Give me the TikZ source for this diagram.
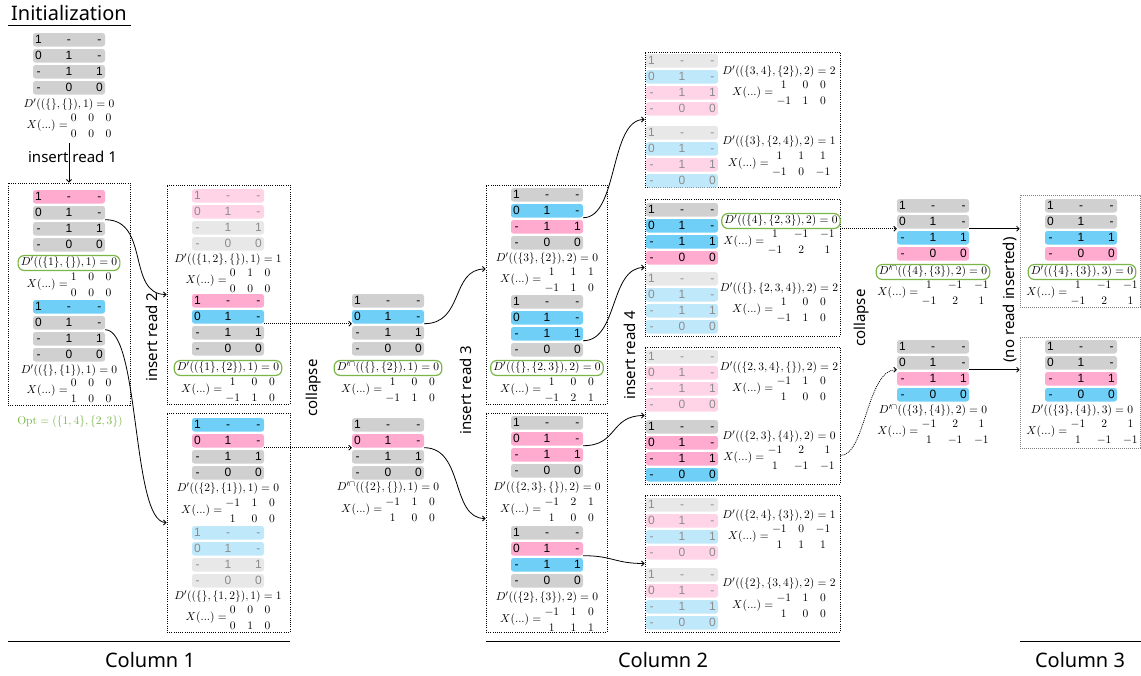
\documentclass[tikz,border=0pt]{standalone}
\usepackage{amsmath}
\usepackage{fontspec}
\usetikzlibrary{arrows.meta,calc}
\newfontfamily\labfont{Noto Sans}
\newfontfamily\cellfont{Liberation Sans}
\definecolor{gG}{HTML}{D0D0D0}
\definecolor{gP}{HTML}{FFAACF}
\definecolor{gB}{HTML}{6FCFF6}
\definecolor{fG}{HTML}{E8E8E8}
\definecolor{fP}{HTML}{FFD4E6}
\definecolor{fB}{HTML}{C0E8FB}
\definecolor{fT}{HTML}{8C8C8C}
\definecolor{okG}{HTML}{7AB648}
\newcommand\rt[3]{\hbox to 72pt{\hbox to 11pt{\hss#1\hss}\hss\hbox to 11pt{\hss#2\hss}\hss\hbox to 11pt{\hss#3\hss}}}
\newcommand\blk[7]{%
 \node[rowbox,#4] (#1-1) at (#2+36,#3+6.75) {\rt{1}{-}{-}};
 \node[rowbox,#5] (#1-2) at (#2+36,#3+22.75) {\rt{0}{1}{-}};
 \node[rowbox,#6] (#1-3) at (#2+36,#3+38.75) {\rt{-}{1}{1}};
 \node[rowbox,#7] (#1-4) at (#2+36,#3+54.75) {\rt{-}{0}{0}};
}
\newcommand\bx[6][boxst]{\node[#1,minimum width={#5-#3},minimum height={#6-#4}] (#2) at ({(#3+#5)/2},{(#4+#6)/2}) {};}
\newcommand\Xm[6]{$X(...) = \renewcommand{\arraystretch}{1.2}\setlength{\arraycolsep}{5.5pt}\begin{matrix}#1&#2&#3\\#4&#5&#6\end{matrix}$}
\begin{document}
\begin{tikzpicture}[x=1pt,y=-1pt,
 rowbox/.style={rounded corners=2.5pt,inner sep=0pt,minimum height=13.5pt,font=\cellfont\fontsize{12}{12}\selectfont},
 rg/.style={fill=gG}, rp/.style={fill=gP}, rb/.style={fill=gB},
 fg/.style={fill=fG,text=fT}, fp/.style={fill=fP,text=fT}, fb/.style={fill=fB,text=fT},
 mt/.style={font=\fontsize{10.95}{12.5}\selectfont,inner sep=1pt,scale=1.05,transform shape},
 oval/.style={mt,draw=okG,line width=1.2pt,rounded corners=6pt,inner xsep=2.5pt,inner ysep=1.5pt},
 boxst/.style={draw,dash pattern=on 1pt off 1.2pt,line width=0.9pt,inner sep=0pt},
 boxgr/.style={draw=gray,dash pattern=on 0.8pt off 1.2pt,line width=0.8pt,inner sep=0pt},
 conn/.style={-{Straight Barb[length=2.5pt,width=5pt]},line width=0.8pt},
 dconn/.style={conn,dash pattern=on 1pt off 1pt},
 lab/.style={font=\labfont\fontsize{15}{15}\selectfont,inner sep=0pt},
 title/.style={font=\labfont\fontsize{20}{20}\selectfont,inner sep=0pt},
 rule/.style={line width=1pt}]
\useasboundingbox (0,0) rectangle (1141,675);
% Initialization
\node[title] (T) at (69,13) {Initialization};
\draw[rule] (8,25) -- (131,25);
\blk{I}{33}{33}{rg}{rg}{rg}{rg}
\node[mt] (DI) at (69,105) {$D'((\{\},\{\}),1) = 0$};
\node[mt] (XI) at (69,126) {\Xm{0}{0}{0}{0}{0}{0}};
\node[lab] (L1) at (72.5,157) {insert read 1};
% Column 1 first box
\bx{B1}{8}{183}{130}{405}
\blk{A}{33}{190}{rp}{rg}{rg}{rg}
\node[oval] (DA) at (69,263) {$D'((\{1\},\{\}),1) = 0$};
\node[mt] (XA) at (69,285) {\Xm{1}{0}{0}{0}{0}{0}};
\blk{Ab}{33}{300}{rb}{rg}{rg}{rg}
\node[mt] (DAb) at (69,371) {$D'((\{\},\{1\}),1) = 0$};
\node[mt] (XAb) at (69,391) {\Xm{0}{0}{0}{1}{0}{0}};
\node[mt,text=okG] (Opt) at (70,422) {$\mathrm{Opt} = (\{1,4\},\{2,3\})$};
% Column 1 second boxes
\node[lab,rotate=90] (L2) at (152,337) {insert read 2};
\bx{B2a}{167}{185}{290}{404}
\blk{Ba}{192}{189}{fp}{fp}{fg}{fg}
\node[mt] (DBa) at (228,260) {$D'((\{1,2\},\{\}),1) = 1$};
\node[mt] (XBa) at (228,281) {\Xm{0}{1}{0}{0}{0}{0}};
\blk{Bb}{192}{294}{rp}{rb}{rg}{rg}
\node[oval] (DBb) at (228,368) {$D'((\{1\},\{2\}),1) = 0$};
\node[mt] (XBb) at (228,390) {\Xm{1}{0}{0}{-1}{1}{0}};
\bx{B2b}{167}{413}{290}{632}
\blk{Bc}{192}{418}{rb}{rp}{rg}{rg}
\node[mt] (DBc) at (228,489) {$D'((\{2\},\{1\}),1) = 0$};
\node[mt] (XBc) at (228,511) {\Xm{-1}{1}{0}{1}{0}{0}};
\blk{Bd}{192}{526}{fb}{fb}{fg}{fg}
\node[mt] (DBd) at (228,597) {$D'((\{\},\{1,2\}),1) = 1$};
\node[mt] (XBd) at (228,618) {\Xm{0}{0}{0}{0}{1}{0}};
% collapse 1
\node[lab,rotate=90] (L3) at (314,388) {collapse};
\blk{C}{352}{294}{rg}{rb}{rg}{rg}
\node[oval] (DC) at (388,368) {$D'^{\cap}((\{\},\{2\}),1) = 0$};
\node[mt] (XC) at (388,390) {\Xm{1}{0}{0}{-1}{1}{0}};
\blk{Cb}{352}{418}{rg}{rp}{rg}{rg}
\node[mt] (DCb) at (388,488) {$D'^{\cap}((\{2\},\{\}),1) = 0$};
\node[mt] (XCb) at (388,510) {\Xm{-1}{1}{0}{1}{0}{0}};
% Column 2 first boxes
\node[lab,rotate=90] (L4) at (466,390) {insert read 3};
\bx{B3a}{486}{185}{607}{404}
\blk{Da}{511}{188}{rg}{rb}{rp}{rg}
\node[mt] (DDa) at (547,259) {$D'((\{3\},\{2\}),2) = 0$};
\node[mt] (XDa) at (547,280) {\Xm{1}{1}{1}{-1}{1}{0}};
\blk{Db}{511}{295}{rg}{rb}{rb}{rg}
\node[oval] (DDb) at (547,368) {$D'((\{\},\{2,3\}),2) = 0$};
\node[mt] (XDb) at (547,390) {\Xm{1}{0}{0}{-1}{2}{1}};
\bx{B3b}{486}{413}{607}{632}
\blk{Dc}{511}{416}{rg}{rp}{rp}{rg}
\node[mt] (DDc) at (547,488) {$D'((\{2,3\},\{\}),2) = 0$};
\node[mt] (XDc) at (547,510) {\Xm{-1}{2}{1}{1}{0}{0}};
\blk{Dd}{511}{526}{rg}{rp}{rb}{rg}
\node[mt] (DDd) at (547,598) {$D'((\{2\},\{3\}),2) = 0$};
\node[mt] (XDd) at (547,620) {\Xm{-1}{1}{0}{1}{1}{1}};
% Column 2 second boxes
\node[lab,rotate=90] (L5) at (630,355) {insert read 4};
\bx{B4a}{645}{52}{840}{187}
\blk{Ea}{646}{54}{fg}{fb}{fp}{fp}
\node[mt] (DEa) at (779,72) {$D'((\{3,4\},\{2\}),2) = 2$};
\node[mt] (XEa) at (779,93) {\Xm{1}{0}{0}{-1}{1}{0}};
\blk{Eb}{646}{126}{fg}{fb}{fp}{fb}
\node[mt] (DEb) at (779,142) {$D'((\{3\},\{2,4\}),2) = 1$};
\node[mt] (XEb) at (779,164) {\Xm{1}{1}{1}{-1}{0}{-1}};
\bx{B4b}{645}{199}{840}{336}
\blk{Ec}{646}{203}{rg}{rb}{rb}{rp}
\node[oval] (DEc) at (781,221) {$D'((\{4\},\{2,3\}),2) = 0$};
\node[mt] (XEc) at (779,242) {\Xm{1}{-1}{-1}{-1}{2}{1}};
\blk{Ed}{646}{272}{fg}{fb}{fb}{fb}
\node[mt] (DEd) at (779,289) {$D'((\{\},\{2,3,4\}),2) = 2$};
\node[mt] (XEd) at (779,310) {\Xm{1}{0}{0}{-1}{1}{0}};
\bx{B4c}{645}{347}{840}{484}
\blk{Ee}{646}{350}{fg}{fp}{fp}{fp}
\node[mt] (DEe) at (779,368) {$D'((\{2,3,4\},\{\}),2) = 2$};
\node[mt] (XEe) at (779,389) {\Xm{-1}{1}{0}{1}{0}{0}};
\blk{Ef}{646}{420}{rg}{rp}{rp}{rb}
\node[mt] (DEf) at (779,437) {$D'((\{2,3\},\{4\}),2) = 0$};
\node[mt] (XEf) at (779,458) {\Xm{-1}{2}{1}{1}{-1}{-1}};
\bx{B4d}{645}{495}{840}{632}
\blk{Eg}{646}{498}{fg}{fp}{fb}{fp}
\node[mt] (DEg) at (779,516) {$D'((\{2,4\},\{3\}),2) = 1$};
\node[mt] (XEg) at (779,537) {\Xm{-1}{0}{-1}{1}{1}{1}};
\blk{Eh}{646}{568}{fg}{fp}{fb}{fb}
\node[mt] (DEh) at (779,584) {$D'((\{2\},\{3,4\}),2) = 2$};
\node[mt] (XEh) at (779,606) {\Xm{-1}{1}{0}{1}{0}{0}};
% collapse 2
\node[lab,rotate=90] (L6) at (862,318) {collapse};
\blk{F}{897}{199}{rg}{rg}{rb}{rp}
\node[oval] (DF) at (933,272) {$D'^{\cap}((\{4\},\{3\}),2) = 0$};
\node[mt] (XF) at (933,293) {\Xm{1}{-1}{-1}{-1}{2}{1}};
\blk{Fb}{897}{340}{rg}{rg}{rp}{rb}
\node[mt] (DFb) at (933,411) {$D'^{\cap}((\{3\},\{4\}),2) = 0$};
\node[mt] (XFb) at (933,432) {\Xm{-1}{2}{1}{1}{-1}{-1}};
% Column 3
\node[lab,rotate=90] (L7) at (1010,300) {(no read inserted)};
\bx[boxgr]{B5a}{1020}{195}{1140}{307}
\blk{G}{1045}{199}{rg}{rg}{rb}{rp}
\node[oval] (DG) at (1082,272) {$D'((\{4\},\{3\}),3) = 0$};
\node[mt] (XG) at (1082,293) {\Xm{1}{-1}{-1}{-1}{2}{1}};
\bx[boxgr]{B5b}{1020}{337}{1140}{448}
\blk{Gb}{1045}{340}{rg}{rg}{rp}{rb}
\node[mt] (DGb) at (1082,411) {$D'((\{3\},\{4\}),3) = 0$};
\node[mt] (XGb) at (1082,432) {\Xm{-1}{2}{1}{1}{-1}{-1}};
% connectors
\draw[conn] (XI.south) -- (B1.north);
\draw[conn] (A-2.south east) .. controls +(45,0) and +(-40,0) .. (B2a.west);
\draw[conn] (Ab-2.south east) .. controls +(35,0) and +(-35,0) .. (B2b.west);
\draw[dconn] (Bb-2.south east) -- (C-2.south west);
\draw[dconn] (Bc-2.south east) -- (Cb-2.south west);
\draw[conn] (C-2.south east) .. controls +(40,0) and +(-35,0) .. ($(B3a.west)+(0,-25.5)$);
\draw[conn] (Cb-2.south east) .. controls +(40,0) and +(-35,0) .. ($(B3b.west)+(0,-4)$);
\draw[conn] (Da-2.south east) .. controls +(35,0) and +(-35,0) .. (B4a.west);
\draw[conn] (Db-3.south east) .. controls +(35,0) and +(-35,0) .. (B4b.west);
\draw[conn] (Dc-2.south east) .. controls +(35,0) and +(-35,0) .. (B4c.west);
\draw[conn] (Dd-2.south east) .. controls +(30,0) and +(-30,0) .. (B4d.west);
\draw[dconn] (B4b.east |- F-2.south west) -- (F-2.south west);
\draw[dconn] ($(B4c.east)+(0,40)$) .. controls +(25,0) and +(-30,0) .. (Fb-2.south west);
\draw[conn] (F-2.south east) -- (B5a.west |- F-2.south east);
\draw[conn] (Fb-2.south east) -- (B5b.west |- Fb-2.south east);
% column labels
\draw[rule] (8,641) -- (290,641);
\node[title] (K1) at (150,660) {Column 1};
\draw[rule] (486,641) -- (840,641);
\node[title] (K2) at (663,660) {Column 2};
\draw[rule] (1020,641) -- (1141,641);
\node[title] (K3) at (1080,660) {Column 3};
\end{tikzpicture}
\end{document}
